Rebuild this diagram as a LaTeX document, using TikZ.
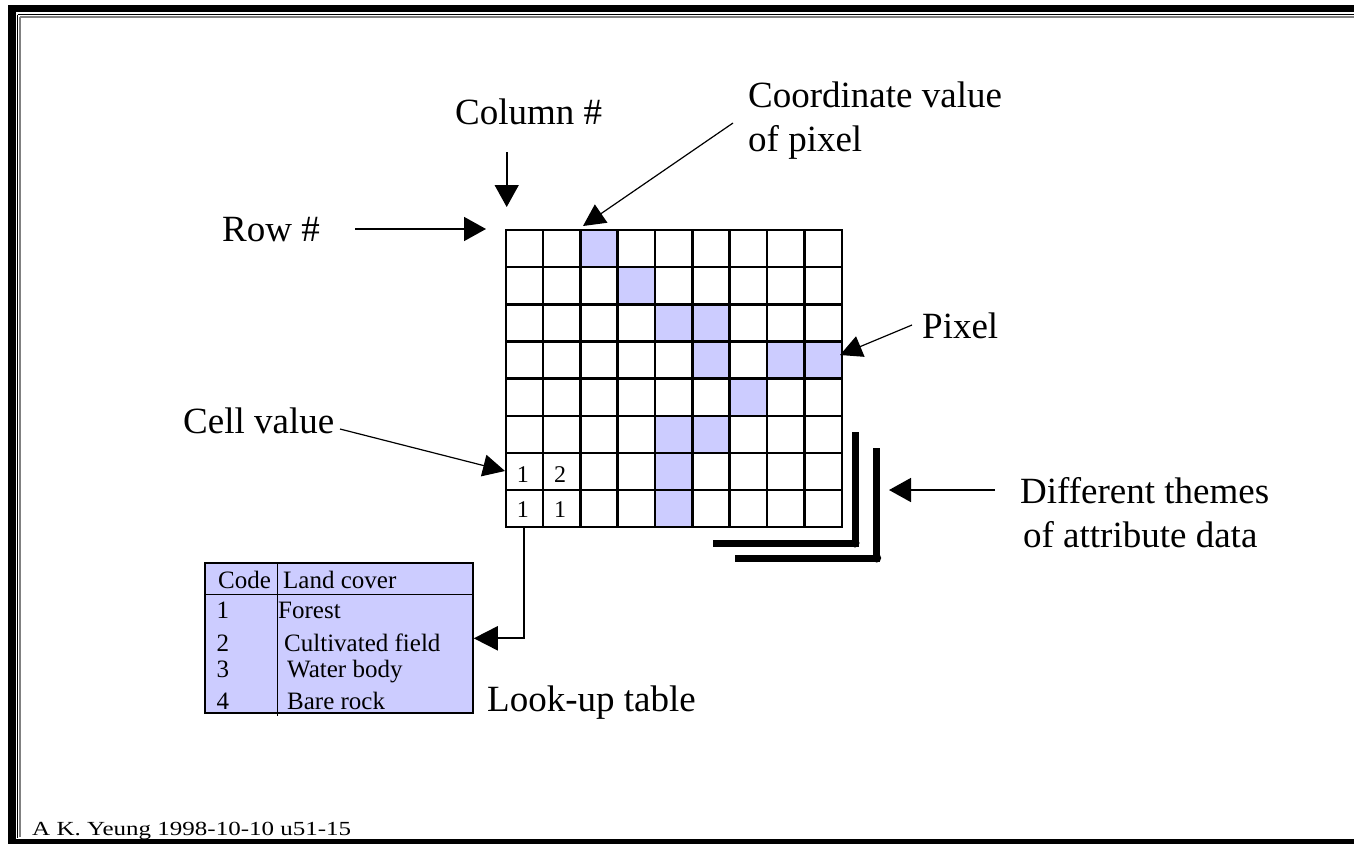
\documentclass[tikz,border=0pt]{standalone}
\usepackage{fontspec}
\setmainfont{Liberation Serif}
\newfontfamily\footfont[FakeStretch=1.25]{Liberation Serif}
\usetikzlibrary{arrows.meta,calc}
\definecolor{lav}{HTML}{CCCCFF}

\begin{document}
\begin{tikzpicture}[x=1pt,y=-1pt,
  lbl/.style={font=\fontsize{37}{44}\selectfont, inner sep=0pt, anchor=base west, align=left},
  tbl/.style={font=\fontsize{25}{28}\selectfont, inner sep=0pt, anchor=base west},
  digit/.style={font=\fontsize{24}{26}\selectfont, inner sep=0pt},
  cell/.style={minimum width=37.33pt, minimum height=37.16pt, inner sep=0pt, outer sep=0pt},
  ptr/.style={-{Triangle[length=22pt,width=24pt]}, line width=1.6pt},
  fineptr/.style={-{Triangle[length=22pt,width=22pt]}, line width=1.2pt},
  theme/.style={line width=7pt}
]
\useasboundingbox (0,0) rectangle (1354,844);

% window frame
\fill[black] (8,5) rectangle (1354,12.3);
\fill[black] (8,5) rectangle (16,844);
\fill[black] (8,838.5) rectangle (1354,844);
\draw[black, line width=1.6pt] (17.5,14.5) -- (1354,14.5);
\draw[black, line width=1.6pt] (17.5,14.5) -- (17.5,838);
\draw[gray, line width=1.2pt] (20,17) -- (1354,17);
\draw[gray, line width=1.2pt] (20,17) -- (20,837);

% raster cells
\foreach \r in {0,...,7}
  \foreach \c in {0,...,8}
    \node[cell] (c\r\c) at ({505.7+(\c+0.5)*37.33},{230+(\r+0.5)*37.16}) {};
\foreach \r/\c in {0/2,1/3,2/4,2/5,3/5,3/7,3/8,4/6,5/4,5/5,6/4,7/4}
  \fill[lav] (c\r\c.north west) rectangle (c\r\c.south east);
\foreach \c in {1,...,8}
  \draw[line width=2.6pt] ({505.7+\c*37.33},230) -- ++(0,297.3);
\foreach \r in {1,...,7}
  \draw[line width=2.6pt] (505.7,{230+\r*37.16}) -- ++(336,0);
\draw[line width=2pt] (c00.north west) rectangle (c78.south east);

% cell values
\node[digit] at ([xshift=-1.5pt,yshift=-3pt]c60.center) {1};
\node[digit] at ([xshift=-1.5pt,yshift=-3pt]c61.center) {2};
\node[digit] at ([xshift=-1.5pt,yshift=-1pt]c70.center) {1};
\node[digit] at ([xshift=-1.5pt,yshift=-1pt]c71.center) {1};

% look-up table
\node[draw, line width=2pt, fill=lav, minimum width=267.7pt, minimum height=150pt,
      inner sep=0pt] (lut) at (338.9,638.3) {};
\draw[line width=1.6pt] (lut.west |- 0,594.3) -- (lut.east |- 0,594.3);
\draw[line width=1.6pt] (277.3,563.3) -- (277.3,716);
\node[tbl] (hcode) at (218,588) {Code};
\node[tbl] (hland) at (283,588) {Land cover};
\node[tbl] (k1) at (216.5,618) {1};
\node[tbl] (v1) at (278,618) {Forest};
\node[tbl] (k2) at (216.5,651) {2};
\node[tbl] (v2) at (284,651) {Cultivated field};
\node[tbl] (k3) at (216.5,677) {3};
\node[tbl] (v3) at (287,677) {Water body};
\node[tbl] (k4) at (216.5,709) {4};
\node[tbl] (v4) at (287,709) {Bare rock};

% labels (two-line labels sit on the baseline of their last line)
\node[lbl] (collbl) at (455,124) {Column \#};
\node[lbl] (coordlbl) at (748,151) {Coordinate value\\of pixel};
\node[lbl] (rowlbl) at (222,241) {Row \#};
\node[lbl] (pixlbl) at (922,338) {Pixel};
\node[lbl] (celllbl) at (183,433) {Cell value};
\node[lbl] (themelbl) at (1020,547) {Different themes\\\hspace*{3pt}of attribute data};
\node[lbl] (lutlbl) at (487,711) {Look-up table};
\node[inner sep=0pt, anchor=base west, font=\footfont\fontsize{20}{22}\selectfont]
  (credit) at (32,835) {A K. Yeung 1998-10-10 u51-15};

% pointer ends
\coordinate (colstart) at (506.7,152);
\coordinate (coltip) at (506.7,207);
\coordinate (rowstart) at (355,229);
\coordinate (rowtip) at (486,229);
\coordinate (coordstart) at (733,123);
\coordinate (coordtip) at (583,226);
\coordinate (pixstart) at (912,325);
\coordinate (pixtip) at (840,355);
\coordinate (cellstart) at (340,429);
\coordinate (celltip) at (505,471);
\coordinate (themestart) at (995,490);
\coordinate (themetip) at (889,490);

\draw[ptr] (colstart) -- (coltip);
\draw[ptr] (rowstart) -- (rowtip);
\draw[fineptr] (coordstart) -- (coordtip);
\draw[fineptr] (pixstart) -- (pixtip);
\draw[fineptr] (cellstart) -- (celltip);
\draw[ptr] (themestart) -- (themetip);
\draw[-{Triangle[length=24pt,width=24pt]}, line width=2pt] (c70.south) |- (lut.east);

% stacked theme layers
\draw[theme] (713,543) -- (855,543) -- (855,432);
\fill (855,543) circle (4.5pt);
\draw[theme] (735,558) -- (876.7,558) -- (876.7,448);
\fill (876.7,558) circle (4.5pt);
\end{tikzpicture}
\end{document}
